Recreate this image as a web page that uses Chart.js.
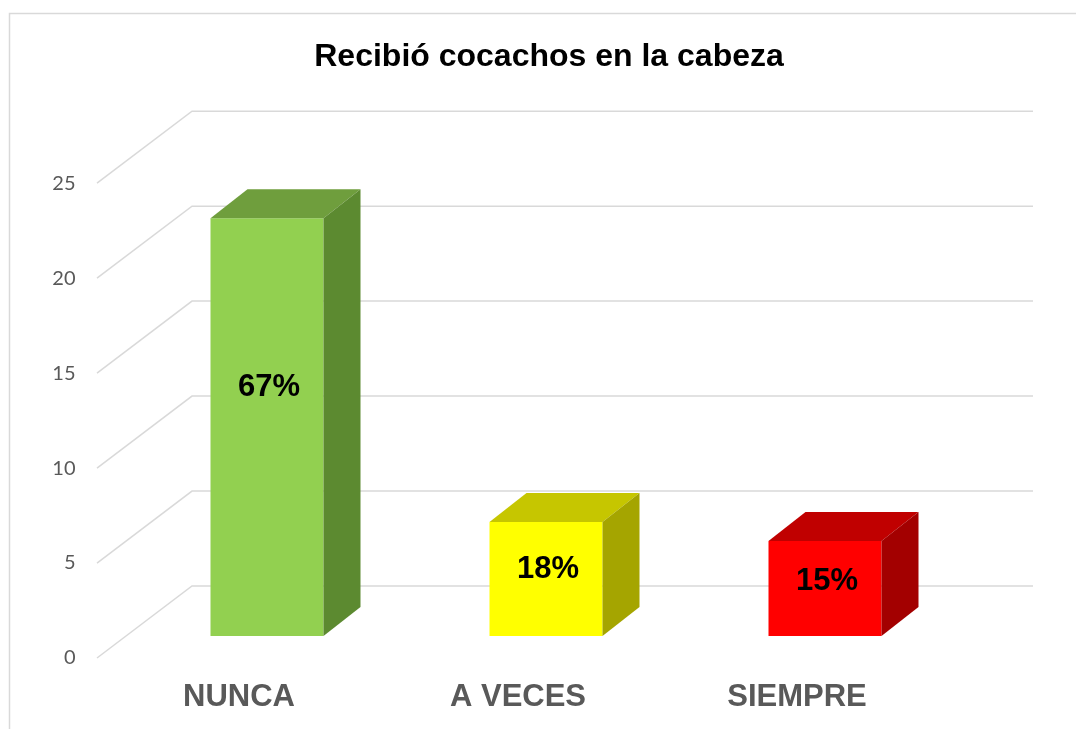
<!DOCTYPE html>
<html>
<head>
<meta charset="utf-8">
<script src="https://cdn.jsdelivr.net/npm/chart.js@4/dist/chart.umd.min.js"></script>
<style>
  html, body { margin: 0; padding: 0; background: #fff; }
  #wrap { width: 1076px; height: 729px; position: relative; }
</style>
</head>
<body>
<div id="wrap"><canvas id="chart"></canvas></div>
<script>
// data
const categories = ['NUNCA', 'A VECES', 'SIEMPRE'];
const counts = [22, 6, 5];
const percentLabels = ['67%', '18%', '15%'];
const yTicks = { min: 0, max: 25, step: 5 };

// face colours of the 3d bars
const frontColors = ['#92D050', '#FFFF00', '#FF0000'];
const topColors = ['#6F9E3D', '#C6C600', '#C00000'];
const sideColors = ['#5C8A30', '#A5A500', '#A30000'];

const DEPTH_X = 37, DEPTH_Y = -29;   // bar depth
const FLOOR_DY = 22;                 // front axis sits below the bar plane
const WALL_DX = 95, WALL_DY = -72;   // back wall offset from front axis
const GRID = '#D9D9D9';

const frame = {
    id: 'frame',
    beforeDraw(chart) {
        const ctx = chart.ctx;
        ctx.save();
        ctx.fillStyle = '#fff';
        ctx.fillRect(0, 0, chart.width, chart.height);
        ctx.strokeStyle = GRID;
        ctx.lineWidth = 1.5;
        ctx.beginPath();
        ctx.moveTo(9.5, chart.height);
        ctx.lineTo(9.5, 13.5);
        ctx.lineTo(chart.width, 13.5);
        ctx.stroke();
        ctx.restore();
    }
};

const wallGrid = {
    id: 'wallGrid',
    beforeDatasetsDraw(chart) {
        const ctx = chart.ctx;
        const y = chart.scales.y;
        const x0 = 97;
        ctx.save();
        ctx.strokeStyle = GRID;
        ctx.lineWidth = 1.5;
        y.ticks.forEach(t => {
            const py = y.getPixelForValue(t.value) + FLOOR_DY;
            ctx.beginPath();
            ctx.moveTo(x0, py);
            ctx.lineTo(x0 + WALL_DX, py + WALL_DY);
            ctx.lineTo(1033, py + WALL_DY);
            ctx.stroke();
        });
        ctx.restore();
    }
};

const bars3d = {
    id: 'bars3d',
    afterDatasetsDraw(chart) {
        const ctx = chart.ctx;
        const meta = chart.getDatasetMeta(0);
        ctx.save();
        meta.data.forEach((bar, i) => {
            const { x, y, base, width } = bar.getProps(['x', 'y', 'base', 'width'], true);
            const l = x - width / 2, r = x + width / 2;
            // top
            ctx.fillStyle = topColors[i];
            ctx.beginPath();
            ctx.moveTo(l, y);
            ctx.lineTo(l + DEPTH_X, y + DEPTH_Y);
            ctx.lineTo(r + DEPTH_X, y + DEPTH_Y);
            ctx.lineTo(r, y);
            ctx.closePath();
            ctx.fill();
            // side
            ctx.fillStyle = sideColors[i];
            ctx.beginPath();
            ctx.moveTo(r, y);
            ctx.lineTo(r + DEPTH_X, y + DEPTH_Y);
            ctx.lineTo(r + DEPTH_X, base + DEPTH_Y);
            ctx.lineTo(r, base);
            ctx.closePath();
            ctx.fill();
            // value label
            ctx.fillStyle = '#000';
            ctx.font = 'bold 31px "Liberation Sans", Arial, sans-serif';
            ctx.textAlign = 'center';
            ctx.textBaseline = 'middle';
            ctx.fillText(percentLabels[i], x + 2, base - 0.6 * (base - y) + 2);
        });
        ctx.restore();
    }
};

new Chart(document.getElementById('chart'), {
    type: 'bar',
    data: {
        labels: categories,
        datasets: [{
            data: counts,
            backgroundColor: frontColors,
            borderWidth: 0,
            barPercentage: 0.405,
            categoryPercentage: 1
        }]
    },
    options: {
        animation: false,
        responsive: true,
        maintainAspectRatio: false,
        layout: { padding: { left: 22, right: 0, top: 0, bottom: 0 } },
        scales: {
            x: {
                grid: { display: false, drawTicks: false },
                border: { display: false },
                ticks: {
                    color: '#595959',
                    font: { family: '"Liberation Sans", Arial, sans-serif', size: 31, weight: 'bold' },
                    padding: 43,
                    labelOffset: -28,
                    maxRotation: 0
                },
                afterFit(scale) { scale.height = 93; }
            },
            y: {
                min: yTicks.min,
                max: yTicks.max,
                grid: { display: false, drawTicks: false },
                border: { display: false },
                ticks: {
                    stepSize: yTicks.step,
                    color: '#595959',
                    font: { family: 'Lato, "Open Sans", sans-serif', size: 20 },
                    padding: 52,
                    labelOffset: FLOOR_DY
                },
                afterFit(scale) { scale.width = 105.5; }
            },
            // empty right-hand axis that only reserves room for the back wall
            spacer: {
                type: 'linear',
                position: 'right',
                grid: { display: false, drawTicks: false },
                border: { display: false },
                ticks: { display: false },
                afterFit(scale) { scale.width = 111.5; }
            }
        },
        plugins: {
            legend: { display: false },
            tooltip: { enabled: false },
            title: {
                display: true,
                text: 'Recibió cocachos en la cabeza',
                color: '#000',
                font: { family: '"Liberation Sans", Arial, sans-serif', size: 32, weight: 'bold' },
                padding: { top: 38, bottom: 84.8 }
            }
        }
    },
    plugins: [frame, wallGrid, bars3d]
});
</script>
</body>
</html>
